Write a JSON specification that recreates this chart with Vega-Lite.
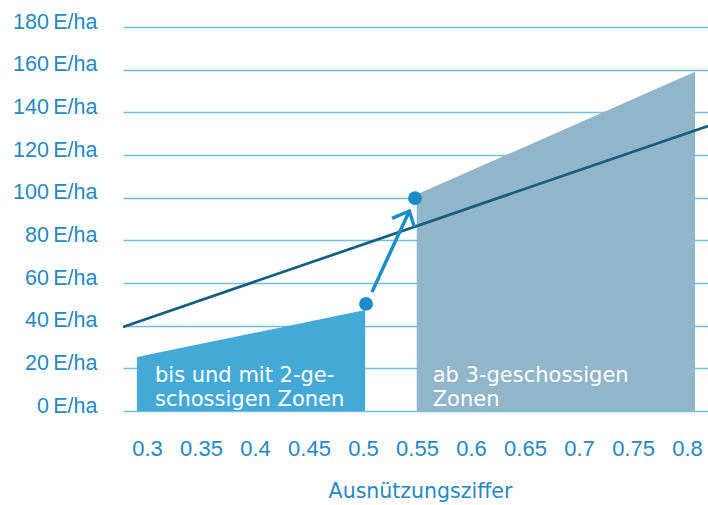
{
  "$schema": "https://vega.github.io/schema/vega-lite/v6.json",
  "autosize": {"type": "none"},
  "width": 585,
  "height": 384,
  "padding": {"left": 123, "top": 27, "right": 0, "bottom": 94},
  "background": "white",
  "config": {"view": {"stroke": null}},
  "datasets": {
    "blueArea": [{"x": 0.2907, "y": 25.3}, {"x": 0.502, "y": 47.3}],
    "grayArea": [{"x": 0.5497, "y": 101.5}, {"x": 0.8074, "y": 159}],
    "trend": [{"x": 0.2778, "y": 39.4}, {"x": 0.8194, "y": 133.6}],
    "arrow": [
      {"part": "shaft", "ord": 1, "x": 0.5083, "y": 55.8},
      {"part": "shaft", "ord": 2, "x": 0.5425, "y": 93.3},
      {"part": "head", "ord": 1, "x": 0.5269, "y": 90.3},
      {"part": "head", "ord": 2, "x": 0.5429, "y": 93.75},
      {"part": "head", "ord": 3, "x": 0.5475, "y": 86.4}
    ],
    "points": [{"x": 0.5028, "y": 50.2}, {"x": 0.5481, "y": 99.8}],
    "labels": [
      {"x": 0.3074, "y": 13.6, "label": "bis und mit 2-ge-"},
      {"x": 0.3074, "y": 2.3, "label": "schossigen Zonen"},
      {"x": 0.5645, "y": 13.6, "label": "ab 3-geschossigen"},
      {"x": 0.5645, "y": 2.3, "label": "Zonen"}
    ]
  },
  "encoding": {
    "x": {
      "field": "x",
      "type": "quantitative",
      "scale": {"domain": [0.2778, 0.8194], "nice": false, "zero": false},
      "axis": {
        "values": [0.3, 0.35, 0.4, 0.45, 0.5, 0.55, 0.6, 0.65, 0.7, 0.75, 0.8],
        "format": "~g",
        "grid": false,
        "domain": false,
        "ticks": false,
        "tickSize": 0,
        "labelFont": "Liberation Sans",
        "labelFontSize": 22,
        "labelColor": "#2489c2",
        "labelBaseline": "alphabetic",
        "labelPadding": 44,
        "labelFlush": false,
        "labelOverlap": false,
        "title": "Ausnützungsziffer",
        "titleFont": "DejaVu Sans",
        "titleFontSize": 20.5,
        "titleFontWeight": "normal",
        "titleColor": "#2489c2",
        "titleX": 297,
        "titleY": 86,
        "titleAlign": "center",
        "titleBaseline": "alphabetic"
      }
    },
    "y": {
      "field": "y",
      "type": "quantitative",
      "scale": {"domain": [0, 180], "nice": false},
      "axis": {
        "values": [0, 20, 40, 60, 80, 100, 120, 140, 160, 180],
        "labelExpr": "datum.value + '\u2009E/ha'",
        "grid": true,
        "gridColor": "#74c0e4",
        "gridWidth": 1.5,
        "domain": false,
        "ticks": false,
        "tickSize": 0,
        "labelFont": "Liberation Sans",
        "labelFontSize": 21.5,
        "labelColor": "#2489c2",
        "labelBaseline": "alphabetic",
        "labelOffset": 1,
        "labelPadding": 26,
        "labelFlush": false,
        "labelOverlap": false,
        "title": null
      }
    }
  },
  "layer": [
    {"data": {"name": "blueArea"}, "mark": {"type": "area", "color": "#45a9d8", "opacity": 1}},
    {"data": {"name": "grayArea"}, "mark": {"type": "area", "color": "#91b5c9", "opacity": 1}},
    {"data": {"name": "trend"}, "mark": {"type": "line", "color": "#145f80", "strokeWidth": 2.7}},
    {
      "data": {"name": "arrow"},
      "mark": {"type": "line", "color": "#1a8dc9", "strokeWidth": 3.5, "strokeJoin": "miter", "strokeCap": "butt"},
      "encoding": {"detail": {"field": "part"}, "order": {"field": "ord"}}
    },
    {"data": {"name": "points"}, "mark": {"type": "point", "filled": true, "size": 190, "color": "#1a8dc9", "opacity": 1}},
    {
      "data": {"name": "labels"},
      "mark": {"type": "text", "font": "DejaVu Sans", "fontSize": 21, "color": "white", "align": "left", "baseline": "alphabetic"},
      "encoding": {"text": {"field": "label"}}
    }
  ]
}
